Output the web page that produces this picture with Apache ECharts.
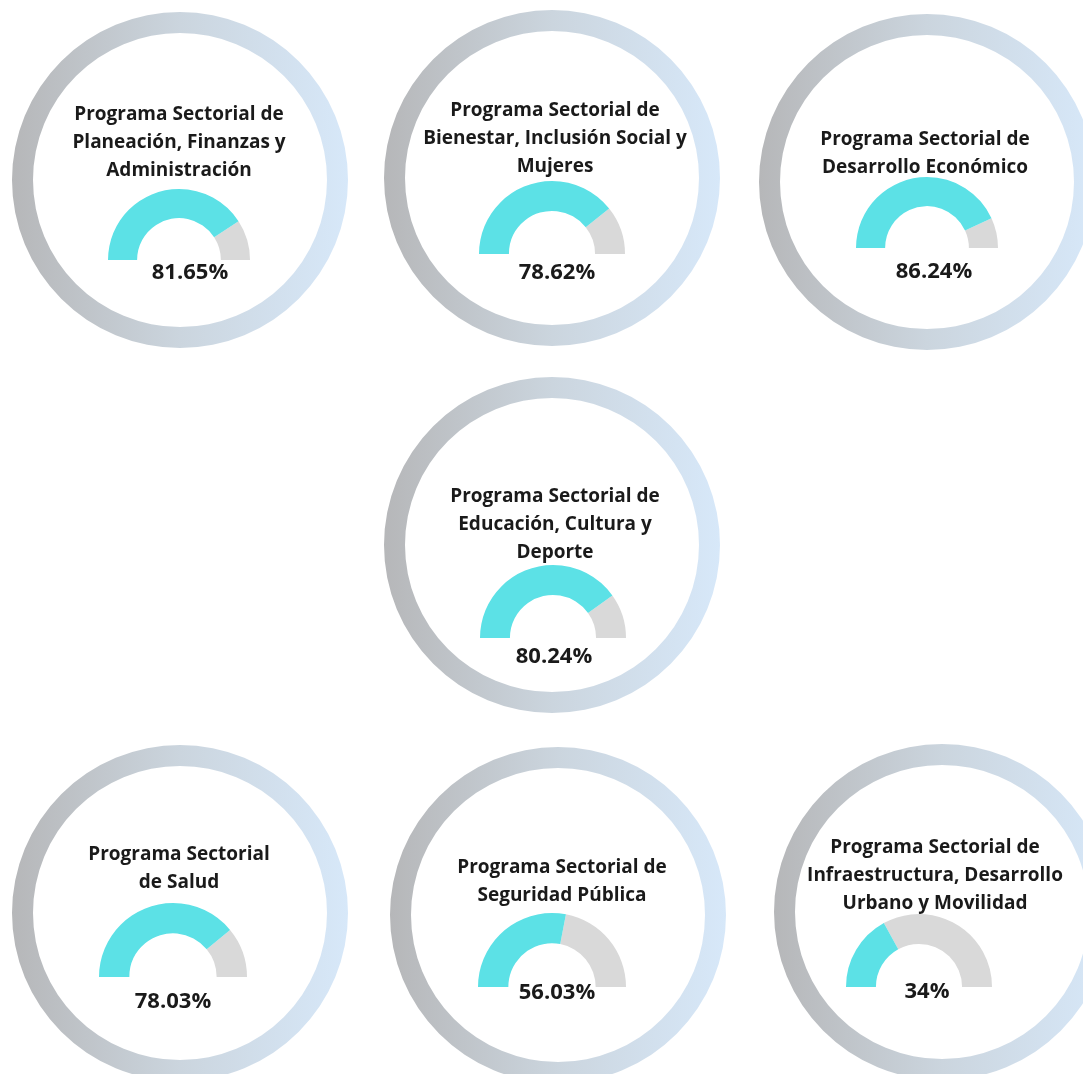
<!DOCTYPE html>
<html>
<head>
<meta charset="utf-8">
<script src="https://cdn.jsdelivr.net/npm/echarts@6/dist/echarts.min.js"></script>
<style>
  html, body { margin: 0; padding: 0; background: #fff; }
  #chart { width: 1083px; height: 1074px; }
</style>
</head>
<body>
<div id="chart"></div>
<script>
// nombres de los programas (una línea por salto)
const programas = [
  'Programa Sectorial de\nPlaneación, Finanzas y\nAdministración',
  'Programa Sectorial de\nBienestar, Inclusión Social y\nMujeres',
  'Programa Sectorial de\nDesarrollo Económico',
  'Programa Sectorial de\nEducación, Cultura y\nDeporte',
  'Programa Sectorial\nde Salud',
  'Programa Sectorial de\nSeguridad Pública',
  'Programa Sectorial de\nInfraestructura, Desarrollo\nUrbano y Movilidad'
]
// avance (%)
const avances = [81.65, 78.62, 86.24, 80.24, 78.03, 56.03, 34]

// posiciones de cada tarjeta (px)
const anillos = [[180, 180], [552, 178], [927, 182], [552, 545], [180, 913], [558, 915], [942, 912]]
const titulosPos = [[179, 101], [555, 97], [925, 126], [555, 483], [179, 841], [562, 854], [935, 834]]
const gaugesPos = [[179, 260, 71], [552, 254, 73], [927, 248, 71], [553, 638, 73], [173, 977, 74], [552, 987, 74], [919, 987, 73]]
const textosPos = [[190, 273], [557, 273], [934, 272], [554, 657], [173, 1002], [557, 993], [927, 992]]

const fuente = '"Open Sans", sans-serif'

const myChart = echarts.init(document.getElementById('chart'), null, { renderer: 'canvas' })

let series = []
let titles = []

programas.forEach((nombre, i) => {
  // anillo exterior con degradado
  series.push({
    type: 'pie',
    silent: true,
    animation: false,
    center: anillos[i],
    radius: [147, 168],
    label: { show: false },
    labelLine: { show: false },
    data: [{
      value: 1,
      itemStyle: {
        color: new echarts.graphic.LinearGradient(0, 0, 1, 0, [
          { offset: 0, color: '#b6b7b9' },
          { offset: 0.5, color: '#cbd5de' },
          { offset: 1, color: '#d7e8f9' }
        ])
      }
    }]
  })

  // medio gauge
  const g = gaugesPos[i]
  series.push({
    type: 'gauge',
    silent: true,
    animation: false,
    center: [g[0], g[1]],
    radius: g[2],
    startAngle: 180,
    endAngle: 0,
    min: 0,
    max: 100,
    axisLine: {
      lineStyle: {
        width: g[2] * 0.41,
        color: [[avances[i] / 100, '#5ce1e6'], [1, '#d9d9d9']]
      }
    },
    pointer: { show: false },
    anchor: { show: false },
    axisTick: { show: false },
    splitLine: { show: false },
    axisLabel: { show: false },
    title: { show: false },
    detail: {
      offsetCenter: [textosPos[i][0] - g[0], textosPos[i][1] - g[1]],
      formatter: '{value}%',
      fontSize: 22,
      fontWeight: 'bold',
      fontFamily: fuente,
      color: '#1a1a1a'
    },
    data: [{ value: avances[i] }]
  })

  titles.push({
    text: nombre,
    left: titulosPos[i][0],
    top: titulosPos[i][1],
    textAlign: 'center',
    padding: 0,
    textStyle: {
      fontSize: 19,
      fontWeight: 'bold',
      fontFamily: fuente,
      color: '#1a1a1a',
      lineHeight: 28
    }
  })
})

myChart.setOption({
  backgroundColor: '#fff',
  title: titles,
  series: series
})
</script>
</body>
</html>
